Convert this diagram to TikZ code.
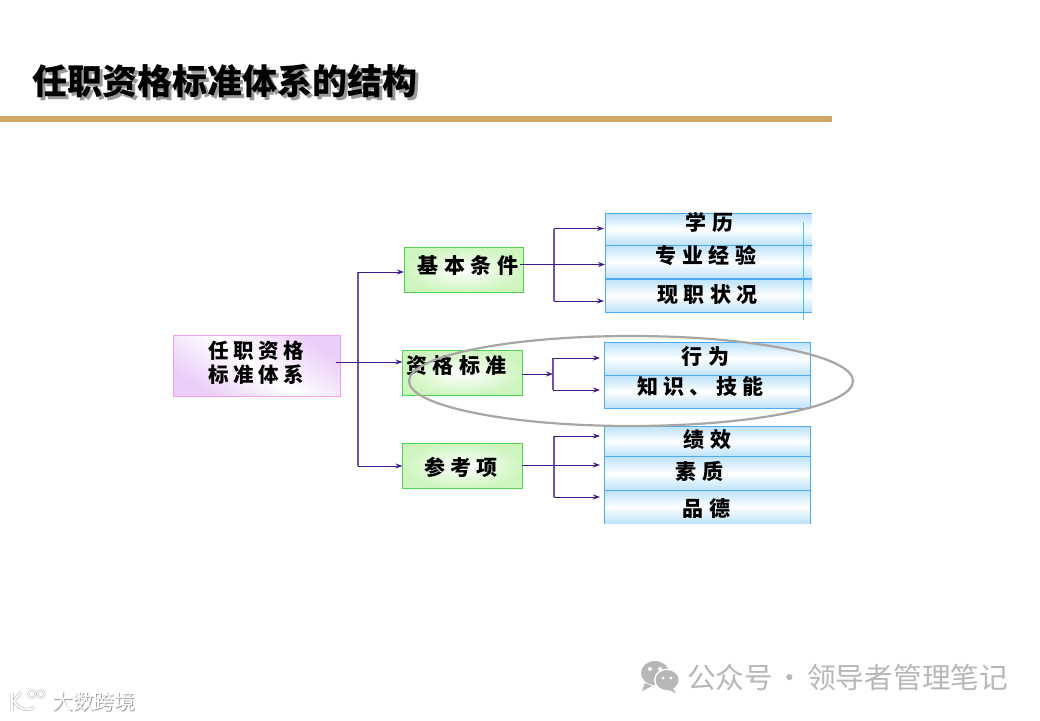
\documentclass[tikz,border=0pt]{standalone}
\usepackage{fontspec}
\usetikzlibrary{arrows.meta,calc}
\newfontfamily\cjk{Noto Sans CJK SC}
\newfontfamily\cjksp[LetterSpace=26]{Noto Sans CJK SC}
\newfontfamily\cjkrt[LetterSpace=22]{Noto Sans CJK SC}
\definecolor{rulegold}{HTML}{CFA663}
\definecolor{linedark}{HTML}{3F1A8F}
\definecolor{linelight}{HTML}{7550A8}
\definecolor{pinkedge}{HTML}{F79CF2}
\definecolor{pinkfill}{HTML}{EACDF8}
\definecolor{greenedge}{HTML}{4FD44F}
\definecolor{greenfill}{HTML}{CFF5BF}
\definecolor{blueedge}{HTML}{4FAAF0}
\definecolor{bluefill}{HTML}{BCE2FA}
\definecolor{wmgray}{HTML}{B7B7B7}
\definecolor{ringgray}{HTML}{A9A5A2}
\definecolor{guidecyan}{HTML}{45C3EA}
\tikzset{
  rootbox/.style={draw=pinkedge,line width=1pt,top color=pinkfill,bottom color=pinkfill,middle color=white,shading angle=-35,minimum width=167.5pt,minimum height=61.5pt,inner sep=0pt},
  greenbox/.style={draw=greenedge,line width=1pt,inner color=white,outer color=greenfill,minimum width=119.5pt,minimum height=45.5pt,inner sep=0pt},
  cell/.style={top color=bluefill,bottom color=bluefill,middle color=white,inner sep=0pt},
  cellline/.style={draw=blueedge,line width=1pt},
  boxtext/.style={font=\cjksp\bfseries\fontsize{21}{24}\selectfont,text=black,align=center,inner sep=0pt},
  roottext/.style={font=\cjkrt\bfseries\fontsize{20.5}{24}\selectfont,text=black,align=center,inner sep=0pt},
  trunk/.style={draw=linelight,line width=1.3pt},
  arrowline/.style={draw=linedark,line width=1pt,-{Stealth[length=7pt,width=5pt]}},
}
\begin{document}
\begin{tikzpicture}[x=1pt,y=-1pt]
\useasboundingbox (0,0) rectangle (1040,720);
\fill[white] (0,0) rectangle (1040,720);
% title with its soft shadow
\node[font=\cjk\bfseries\fontsize{35}{40}\selectfont,text=black,inner sep=0pt,anchor=west] (title) at (32.5,82.5) {\rlap{\raisebox{-2.5pt}{\kern2.5pt\textcolor{black!40}{任职资格标准体系的结构}}}任职资格标准体系的结构};
\fill[rulegold] (0,116) rectangle (832,122);
% boxes
\node[rootbox] (root) at (257,366) {};
\node[greenbox] (a) at (464,270) {};
\node[greenbox] (b) at (462.5,373) {};
\node[greenbox] (c) at (462.5,466) {};
% top group cells
\node[cell,minimum width=206pt,minimum height=31pt] (a1) at (709,229.5) {};
\node[cell,minimum width=206pt,minimum height=34pt] (a2) at (709,262) {};
\node[cell,minimum width=206pt,minimum height=33pt] (a3) at (709,295.5) {};
\draw[cellline] (a1.north east) -- (a1.north west) -- (a3.south west) -- (a3.south east);
\draw[cellline] (a1.south west) -- (a1.south east);
\draw[cellline,line width=1.5pt] (a2.south west) -- (a2.south east);
\coordinate (vt) at (803,222);
\coordinate (vb) at (803,320);
\draw[draw=guidecyan,line width=.9pt] (vt) -- (vb);
% middle group cells
\node[cell,minimum width=206pt,minimum height=33pt] (b1) at (707.5,358.8) {};
\node[cell,minimum width=206pt,minimum height=33pt] (b2) at (707.5,391.8) {};
\draw[cellline] (b1.north west) rectangle (b2.south east);
\draw[cellline] (b1.south west) -- (b1.south east);
% bottom group cells
\node[cell,minimum width=206pt,minimum height=30pt] (c1) at (707.5,441.3) {};
\node[cell,minimum width=206pt,minimum height=34pt] (c2) at (707.5,473.3) {};
\node[cell,minimum width=206pt,minimum height=33.4pt] (c3) at (707.5,507) {};
\draw[cellline] (c3.south west) -- (c1.north west) -- (c1.north east) -- (c3.south east);
\draw[cellline] (c1.south west) -- (c1.south east);
\draw[cellline,line width=1.5pt] (c2.south west) -- (c2.south east);
% coordinates of connectors
\coordinate (r0) at (336,362);
\coordinate (rt) at (358,272);
\coordinate (rb) at (358,466);
\coordinate (ra) at (404,272);
\coordinate (rbb) at (402.5,362);
\coordinate (rc) at (402.5,466);
\coordinate (a0) at (520,264.5);
\coordinate (at) at (554,228.5);
\coordinate (ab) at (554,301);
\coordinate (at2) at (604,228.5);
\coordinate (am2) at (605,264.5);
\coordinate (ab2) at (604,301);
\coordinate (b0) at (522,374);
\coordinate (bm) at (553,374);
\coordinate (bt) at (553,358);
\coordinate (bb) at (553,390);
\coordinate (bt2) at (600,358);
\coordinate (bb2) at (600,390);
\coordinate (c0) at (522,465);
\coordinate (ct) at (554,436);
\coordinate (cb) at (554,497);
\coordinate (ct2) at (600,436);
\coordinate (cm2) at (600,465);
\coordinate (cb2) at (600,497);
% connectors
\draw[trunk] (rt) -- (rb);
\draw[arrowline] (rt) -- (ra);
\draw[arrowline] (r0) -- (rbb);
\draw[arrowline] (rb) -- (rc);
\draw[trunk] (at) -- (ab);
\draw[arrowline] (a0) -- (am2);
\draw[arrowline] (at) -- (at2);
\draw[arrowline] (ab) -- (ab2);
\draw[trunk] (bt) -- (bb);
\draw[arrowline] (b0) -- (bm);
\draw[arrowline] (bt) -- (bt2);
\draw[arrowline] (bb) -- (bb2);
\draw[trunk] (ct) -- (cb);
\draw[arrowline] (c0) -- (cm2);
\draw[arrowline] (ct) -- (ct2);
\draw[arrowline] (cb) -- (cb2);
% texts
\node[roottext] (troot) at (256.5,363) {任职资格\\标准体系};
\node[boxtext] (ta) at (468,265) {基本条件};
\node[boxtext] (tb) at (456.5,366) {资格标准};
\node[boxtext] (tc) at (461,467) {参考项};
\node[boxtext] (ta1) at (709.5,222) {学历};
\node[boxtext] (ta2) at (706,255) {专业经验};
\node[boxtext] (ta3) at (707.5,295) {现职状况};
\node[boxtext] (tb1) at (705.5,357) {行为};
\node[boxtext] (tb2) at (700.5,386) {知识、技能};
\node[boxtext] (tc1) at (707.5,440) {绩效};
\node[boxtext] (tc2) at (699.5,471) {素质};
\node[boxtext] (tc3) at (706.5,508) {品德};
% ellipse
\draw[draw=ringgray,line width=2.2pt] (631,381) ellipse [x radius=222,y radius=45];
% watermark right
\node[font=\cjk\fontsize{28.7}{32}\selectfont,text=wmgray,inner sep=0pt,anchor=west] (wm) at (687,678) {公众号\kern2.6pt·\kern2.6pt领导者管理笔记};
\fill[wmgray] (655,673) ellipse [x radius=14,y radius=12];
\fill[wmgray] (645,683) -- (642,691) -- (652,686) -- cycle;
\fill[white] (667,680) ellipse [x radius=13,y radius=11.5];
\fill[wmgray] (667,680) ellipse [x radius=11.5,y radius=10];
\fill[wmgray] (672,687) -- (676,693) -- (666,689) -- cycle;
\fill[white] (650,669) circle (2) (660,669) circle (2) (663,678) circle (1.7) (671,678) circle (1.7);
% watermark left
\node[font=\cjk\fontsize{20.8}{24}\selectfont,text=white,inner sep=0pt,anchor=west] (lm) at (52,702) {\rlap{\raisebox{-1pt}{\kern1pt\textcolor{black!38}{大数跨境}}}大数跨境};
\begin{scope}
\draw[black!28,line width=3pt] (12,693) -- (12,711) (21,692) -- (14,701) .. controls (18,709) and (28,712) .. (34,707);
\draw[white,line width=1.8pt] (12,693) -- (12,711) (21,692) -- (14,701) .. controls (18,709) and (28,712) .. (34,707);
\draw[black!28,line width=2.2pt] (32,694) circle (3.6) (41,694) circle (3.6);
\draw[white,line width=1.2pt] (32,694) circle (3.6) (41,694) circle (3.6);
\end{scope}
\end{tikzpicture}
\end{document}
